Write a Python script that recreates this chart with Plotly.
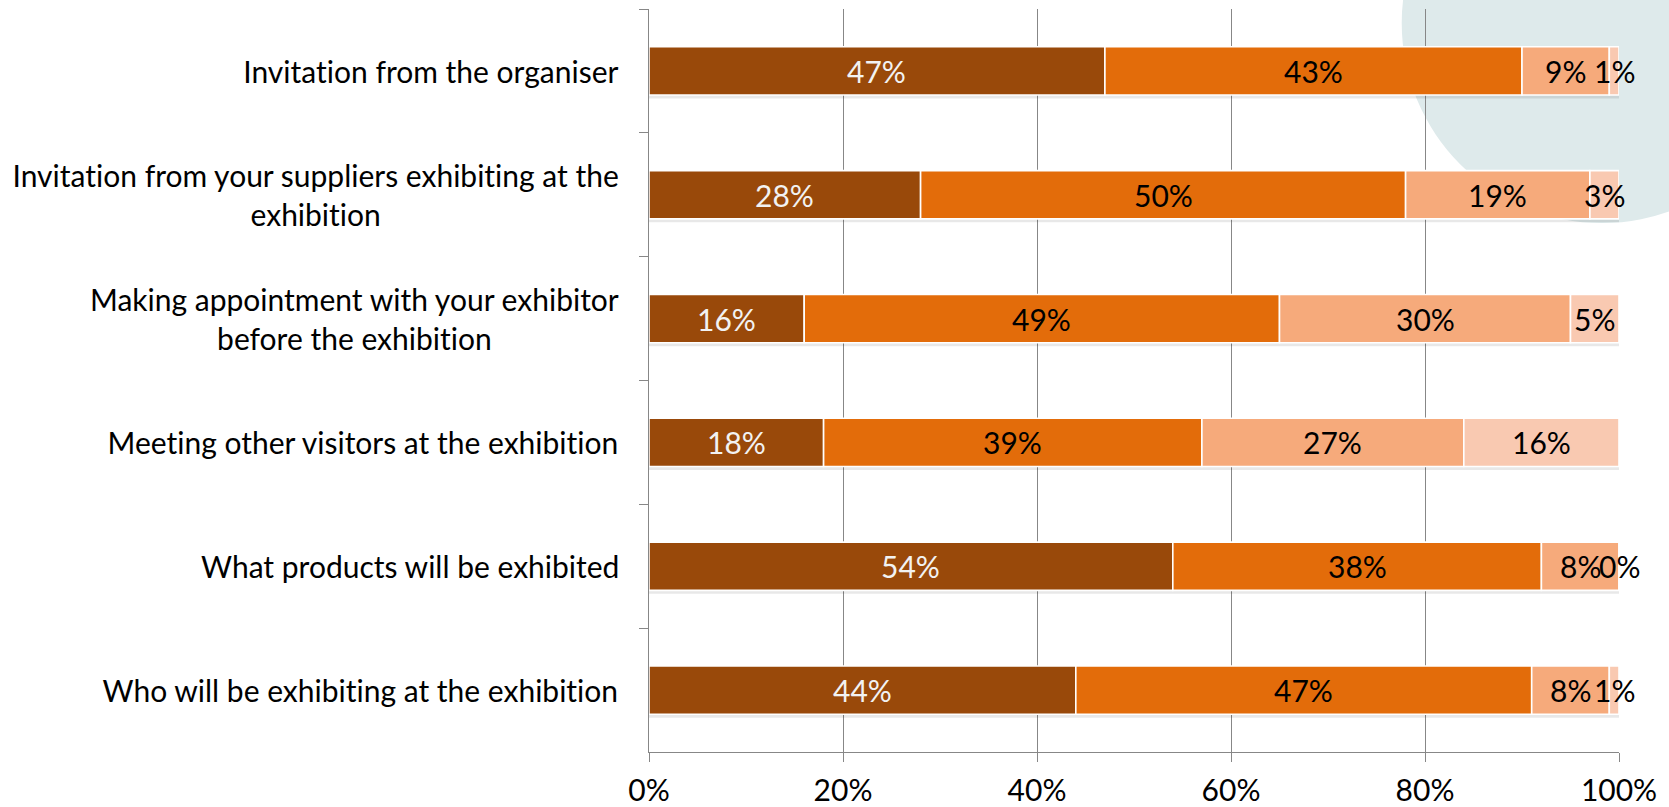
import plotly.graph_objects as go

# Survey items, top to bottom
categories = [
    "Invitation from the organiser",
    "Invitation from your suppliers exhibiting at the<br>exhibition",
    "Making appointment with your exhibitor<br>before the exhibition",
    "Meeting other visitors at the exhibition",
    "What products will be exhibited",
    "Who will be exhibiting at the exhibition",
]

# Share of answers per rating level (percent)
rating_1 = [47, 28, 16, 18, 54, 44]
rating_2 = [43, 50, 49, 39, 38, 47]
rating_3 = [9, 19, 30, 27, 8, 8]
rating_4 = [1, 3, 5, 16, 0, 1]

series_names = ["Rating 1", "Rating 2", "Rating 3", "Rating 4"]
series_values = [rating_1, rating_2, rating_3, rating_4]
colors = ["#99490A", "#E36C0A", "#F6AA7B", "#F9C9B1"]
text_colors = ["#F2F2F2", "#000000", "#000000", "#000000"]

x_ticks = [0, 20, 40, 60, 80, 100]

FONT = "Lato"
FS = 30
GRID = "#878787"
BAR_W = 0.39

fig = go.Figure()

# soft drop shadow under each full bar
totals = [sum(v) for v in zip(*series_values)]
fig.add_trace(go.Bar(
    y=categories, x=totals, base=[0] * len(categories), orientation="h",
    width=BAR_W, offset=-BAR_W / 2 + 0.028,
    marker=dict(color="rgba(0,0,0,0.09)", line=dict(width=0)),
    hoverinfo="skip", showlegend=False,
))

# stacked segments, each starting where the previous one ended
running = [0] * len(categories)
for name, vals, col, tcol in zip(series_names, series_values, colors, text_colors):
    fig.add_trace(go.Bar(
        y=categories, x=vals, base=list(running), orientation="h", name=name,
        width=BAR_W, offset=-BAR_W / 2,
        marker=dict(color=col, line=dict(color="white", width=1.6)),
        showlegend=False,
    ))
    # value labels centred on each segment (kept full size even on thin segments)
    for c, r, v in zip(categories, running, vals):
        fig.add_annotation(
            x=r + v / 2, y=c, xref="x", yref="y", text=f"{v}%",
            showarrow=False, xanchor="center", yanchor="middle",
            font=dict(family=FONT, size=FS, color=tcol),
        )
    running = [r + v for r, v in zip(running, vals)]

# category labels, centred line by line
for c in categories:
    fig.add_annotation(
        x=0, xref="paper", y=c, yref="y", text=c, showarrow=False,
        xanchor="right", align="center", xshift=-28,
        font=dict(family=FONT, size=FS, color="#000000"),
    )

# decorative circle in the top-right corner
fig.add_shape(
    type="circle", xref="paper", yref="paper",
    x0=0.776, x1=1.189, y0=0.712, y1=1.25,
    fillcolor="#DEEAEB", line=dict(width=0), layer="below",
)

fig.update_layout(
    width=1669, height=807,
    margin=dict(l=649, r=50, t=9, b=55),
    barmode="overlay",
    plot_bgcolor="rgba(0,0,0,0)", paper_bgcolor="white",
    font=dict(family=FONT, size=FS, color="#000000"),
)
fig.update_xaxes(
    range=[0, 100], tickvals=x_ticks, ticktext=[f"{t}%" for t in x_ticks],
    showgrid=True, gridcolor=GRID, gridwidth=1.3, zeroline=False,
    showline=True, linecolor=GRID, linewidth=1.3,
    ticks="outside", ticklen=9, tickcolor=GRID, tickwidth=1.3,
    tickfont=dict(family=FONT, size=FS, color="#000000"),
    ticklabelstandoff=3, automargin=False,
)
fig.update_yaxes(
    categoryorder="array", categoryarray=categories, autorange="reversed",
    showticklabels=False, showgrid=False, zeroline=False,
    showline=True, linecolor=GRID, linewidth=1.3, automargin=False,
    ticks="outside", tickson="boundaries", ticklen=9, tickcolor=GRID, tickwidth=1.3,
)

# plain letter pairs instead of typographic ligatures
no_ligatures = (
    "var s=document.createElement('style');"
    "s.textContent='text{font-variant-ligatures:none !important;}';"
    "document.head.appendChild(s);"
)

fig.write_html("out.html", post_script=no_ligatures)
